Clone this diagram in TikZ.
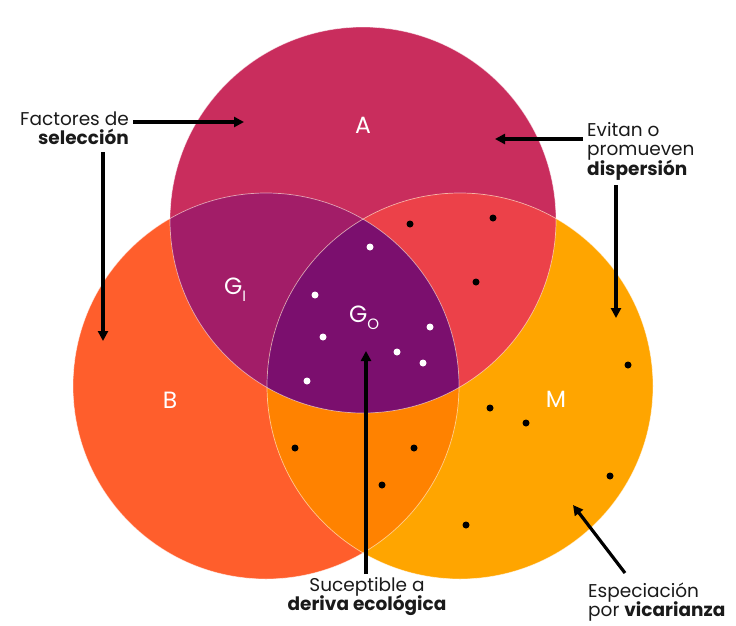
\documentclass[tikz,border=0pt]{standalone}
\usepackage{fontspec}
\setmainfont{Poppins}
\usetikzlibrary{arrows.meta}
\definecolor{colA}{HTML}{C92D5D}
\definecolor{colB}{HTML}{FF5E2C}
\definecolor{colM}{HTML}{FFA500}
\definecolor{colAB}{HTML}{A21D68}
\definecolor{colAM}{HTML}{EC4149}
\definecolor{colBM}{HTML}{FF8200}
\definecolor{colABM}{HTML}{7B0F6E}
\definecolor{txt}{HTML}{1A1A1A}
\newcommand{\subtxt}[1]{\raisebox{-7pt}{\fontsize{15}{15}\selectfont #1}}
\tikzset{
  note/.style={font=\fontsize{18.5}{19.5}\selectfont, text=txt, inner sep=0pt},
  setlabel/.style={font=\fontsize{23.5}{25}\selectfont, text=white, inner sep=0pt},
  pointer/.style={line width=3.2pt, -{Triangle[length=10pt,width=10pt]}},
  wdot/.style={fill=white},
  bdot/.style={fill=black},
  rim/.style={draw=white, draw opacity=0.55, line width=0.7pt}
}
\begin{document}
\begin{tikzpicture}[x=1pt,y=-1pt]
\useasboundingbox (0,0) rectangle (736,625);
\def\R{193pt}
\coordinate (cA) at (363,220);
\coordinate (cB) at (266,386);
\coordinate (cM) at (460,386);
% base circles
\fill[colA] (cA) circle (\R);
\fill[colB] (cB) circle (\R);
\fill[colM] (cM) circle (\R);
% pairwise intersections
\begin{scope}\clip (cA) circle (\R); \fill[colAB] (cB) circle (\R);\end{scope}
\begin{scope}\clip (cA) circle (\R); \fill[colAM] (cM) circle (\R);\end{scope}
\begin{scope}\clip (cB) circle (\R); \fill[colBM] (cM) circle (\R);\end{scope}
\begin{scope}\clip (cA) circle (\R); \clip (cB) circle (\R); \fill[colABM] (cM) circle (\R);\end{scope}
% rims
\draw[rim] (cA) circle (\R);
\draw[rim] (cB) circle (\R);
\draw[rim] (cM) circle (\R);
% set labels
\node[setlabel, anchor=base] (lA) at (363,133) {A};
\node[setlabel, anchor=base] (lB) at (170,408) {B};
\node[setlabel, anchor=base] (lM) at (556,407) {M};
\node[setlabel, anchor=base west] (lGI) at (224,294) {G\subtxt{I}};
\node[setlabel, anchor=base west] (lGO) at (349,322) {G\subtxt{O}};
% white dots
\foreach \p in {(370,247),(315,295),(323,337),(430,327),(397,352),(423,363),(307,381)}
  \fill[wdot] \p circle (3.5pt);
% black dots
\foreach \p in {(410,224),(493,218),(476,282),(295,448),(414,448),(382,485),(490,408),(526,423),(628,365),(610,476),(466,525)}
  \fill[bdot] \p circle (3.5pt);
% notes
\node[note, anchor=base east] (nSel1) at (129,125) {Factores de};
\node[note, anchor=base east] (nSel2) at (129,144) {\textbf{selección}};
\node[note, anchor=base west] (nDis1) at (587,136) {Evitan o};
\node[note, anchor=base west] (nDis2) at (587,155) {promueven};
\node[note, anchor=base west] (nDis3) at (587,175) {\textbf{dispersión}};
\node[note, anchor=base] (nDer1) at (367,591) {Suceptible a};
\node[note, anchor=base] (nDer2) at (367,610) {\textbf{deriva ecológica}};
\node[note, anchor=base west] (nVic1) at (588,597) {Especiación};
\node[note, anchor=base west] (nVic2) at (588,616) {por \textbf{vicarianza}};
% arrow anchors
\coordinate (sSelA) at (133,122);
\coordinate (tSelA) at (244,122);
\coordinate (sSelB) at (103,152);
\coordinate (tSelB) at (103,341);
\coordinate (sDisA) at (583,139);
\coordinate (tDisA) at (495,139);
\coordinate (sDisM) at (616,185);
\coordinate (tDisM) at (616,318);
\coordinate (sDer) at (366,574);
\coordinate (tDer) at (366,351);
\coordinate (sVic) at (625,573);
\coordinate (tVic) at (573,505);
\draw[pointer] (sSelA) -- (tSelA);
\draw[pointer] (sSelB) -- (tSelB);
\draw[pointer] (sDisA) -- (tDisA);
\draw[pointer] (sDisM) -- (tDisM);
\draw[pointer] (sDer) -- (tDer);
\draw[pointer] (sVic) -- (tVic);
\end{tikzpicture}
\end{document}
